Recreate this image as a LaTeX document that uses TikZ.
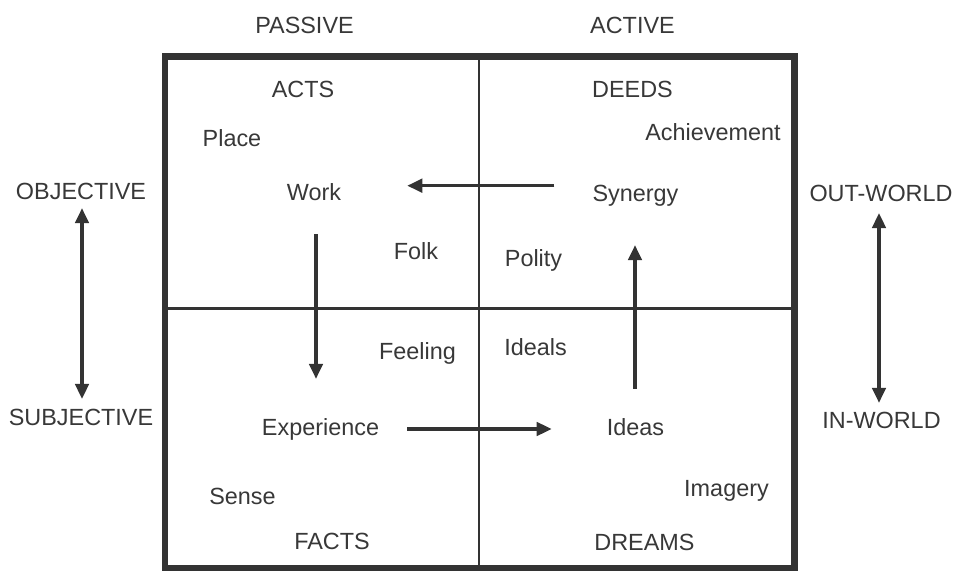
\documentclass[tikz,border=0pt]{standalone}
\usepackage{fontspec}
\setmainfont{Liberation Sans}
\usetikzlibrary{arrows.meta}
\definecolor{ink}{HTML}{333333}
\definecolor{txt}{HTML}{383838}
\begin{document}
\begin{tikzpicture}[x=1pt,y=-1pt,
  lbl/.style={inner sep=0pt, text height=16.75pt, text depth=0pt, text=txt, font=\fontsize{23.4}{28}\selectfont},
  arr/.style={draw=ink, line width=3.2pt, -{Triangle[length=15pt,width=13.5pt]}},
  dbl/.style={draw=ink, line width=3.2pt, {Triangle[length=15pt,width=13.5pt]}-{Triangle[length=15pt,width=13.5pt]}},
  frame/.style={draw=ink, line width=6.2pt},
  divider/.style={draw=ink, line width=2.8pt}]
\useasboundingbox[fill=white] (0,0) rectangle (954,572);
% frame and dividers
\draw[frame] (165,56.5) rectangle (794.5,568);
\draw[divider] (479,58) -- (479,566);
\draw[divider] (167,308.3) -- (792,308.3);
% labels (positioned at cap-height centres)
\node[lbl] (passive) at (304.5,25) {PASSIVE};
\node[lbl] (active) at (632.5,25) {ACTIVE};
\node[lbl] (acts) at (303,89.5) {ACTS};
\node[lbl] (deeds) at (632.5,89.5) {DEEDS};
\node[lbl] (place) at (232,138.5) {Place};
\node[lbl] (achievement) at (713,132) {Achievement};
\node[lbl] (work) at (314,192.5) {Work};
\node[lbl] (synergy) at (635.5,193) {Synergy};
\node[lbl] (objective) at (81,191) {OBJECTIVE};
\node[lbl] (outworld) at (881,193.5) {OUT-WORLD};
\node[lbl] (folk) at (416,251.5) {Folk};
\node[lbl] (polity) at (533.5,258.5) {Polity};
\node[lbl] (feeling) at (417.5,351.5) {Feeling};
\node[lbl] (ideals) at (535.5,347) {Ideals};
\node[lbl] (experience) at (320.5,427) {Experience};
\node[lbl] (ideas) at (635.5,427.5) {Ideas};
\node[lbl] (subjective) at (81,417.5) {SUBJECTIVE};
\node[lbl] (inworld) at (881.5,420) {IN-WORLD};
\node[lbl] (sense) at (242.5,496) {Sense};
\node[lbl] (imagery) at (726.5,488.5) {Imagery};
\node[lbl] (facts) at (332,541.5) {FACTS};
\node[lbl] (dreams) at (644.5,542.5) {DREAMS};
% arrows
\draw[arr] ([shift={(-38,-7.3)}]synergy.west) -- ([shift={(66,-6.8)}]work.east);
\draw[arr] ([shift={(2,33)}]work.south) -- ([shift={(-4.5,-39.6)}]experience.north);
\draw[arr] ([shift={(28,2)}]experience.east) -- ([shift={(-55,1.5)}]ideas.west);
\draw[arr] ([shift={(-0.5,-30)}]ideas.north) -- ([shift={(-0.5,43.6)}]synergy.south);
\draw[dbl] ([shift={(1,8.6)}]objective.south) -- ([shift={(1,-10)}]subjective.north);
\draw[dbl] ([shift={(-2,11)}]outworld.south) -- ([shift={(-2.5,-8.6)}]inworld.north);
\end{tikzpicture}
\end{document}
